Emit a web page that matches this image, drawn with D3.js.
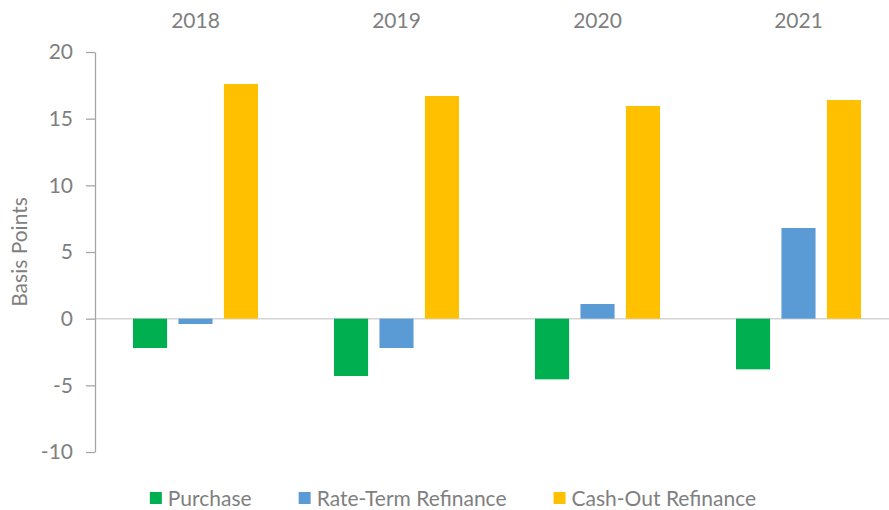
<!DOCTYPE html>
<html>
<head>
<meta charset="utf-8">
<script src="https://cdn.jsdelivr.net/npm/d3@7"></script>
<style>
  body { margin: 0; background: #fff; }
  svg text { font-family: Lato, "Liberation Sans", sans-serif; fill: #7f7f7f; }
</style>
</head>
<body>
<svg id="chart"></svg>
<script>
// Data
const years = ["2018", "2019", "2020", "2021"];
const seriesNames = ["Purchase", "Rate-Term Refinance", "Cash-Out Refinance"];
const purchase = [-2.2, -4.3, -4.55, -3.8];
const rateTerm = [-0.4, -2.2, 1.1, 6.8];
const cashOut = [17.6, 16.7, 15.95, 16.4];
const yTicks = [-10, -5, 0, 5, 10, 15, 20];
const colors = ["#00b050", "#5b9bd5", "#ffc000"];

const width = 889, height = 510;
const fontSize = 21;
const svg = d3.select("#chart").attr("width", width).attr("height", height);

const x = d3.scaleBand().domain(years).range([95, 899]);
const xInner = d3.scaleBand().domain(seriesNames)
    .range([38, x.bandwidth() - 38]).paddingInner(0.25);
const y = d3.scaleLinear().domain([-10, 20]).range([452, 52]);

const allSeries = [purchase, rateTerm, cashOut];

// zero line
svg.append("line")
    .attr("x1", 95).attr("x2", width)
    .attr("y1", y(0)).attr("y2", y(0))
    .attr("stroke", "#d4d4d4").attr("stroke-width", 1.5);

// bars
seriesNames.forEach((name, s) => {
    svg.append("g").selectAll("rect")
        .data(years)
        .enter()
        .append("rect")
        .attr("x", d => x(d) + xInner(name))
        .attr("width", xInner.bandwidth())
        .attr("y", (d, i) => y(Math.max(0, allSeries[s][i])))
        .attr("height", (d, i) => Math.abs(y(allSeries[s][i]) - y(0)))
        .attr("fill", colors[s]);
});

// y axis (plain hyphen for negatives, like the original)
const yAxis = svg.append("g")
    .attr("transform", "translate(95,0)")
    .call(d3.axisLeft(y).tickValues(yTicks).tickFormat(d => String(d))
        .tickSize(9).tickPadding(13).tickSizeOuter(0));
yAxis.select(".domain").attr("stroke", "#a6a6a6").attr("stroke-width", 1.3);
yAxis.selectAll(".tick line").attr("stroke", "#a6a6a6").attr("stroke-width", 1.3);
yAxis.selectAll(".tick text").attr("font-size", fontSize).attr("fill", "#7f7f7f")
    .style("font-family", "Lato, 'Liberation Sans', sans-serif");

// year labels along the top
svg.append("g").selectAll("text")
    .data(years)
    .enter()
    .append("text")
    .attr("x", d => x(d) + x.bandwidth() / 2)
    .attr("y", 28)
    .attr("text-anchor", "middle")
    .attr("font-size", fontSize)
    .text(d => d);

// y axis title
svg.append("text")
    .attr("transform", "translate(27,252) rotate(-90)")
    .attr("text-anchor", "middle")
    .attr("font-size", fontSize)
    .text("Basis Points");

// legend
const legend = svg.append("g");
let lx = 0;
seriesNames.forEach((name, s) => {
    const item = legend.append("g").attr("transform", `translate(${lx},0)`);
    item.append("rect")
        .attr("x", 0).attr("y", -14)
        .attr("width", 12).attr("height", 12)
        .attr("fill", colors[s]);
    const t = item.append("text")
        .attr("x", 18).attr("y", 0)
        .attr("font-size", fontSize)
        .text(name);
    lx += 18 + t.node().getComputedTextLength() + 47;
});
const legendWidth = lx - 47;
legend.attr("transform", `translate(${453 - legendWidth / 2},506)`);
</script>
</body>
</html>
